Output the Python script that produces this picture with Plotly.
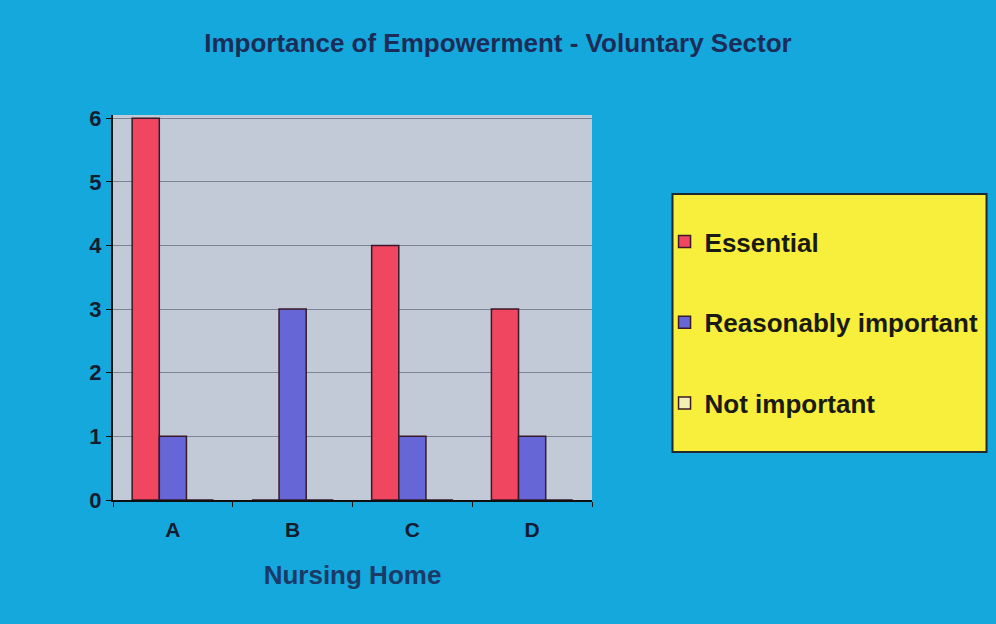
import plotly.graph_objects as go

# Data
homes = ['A', 'B', 'C', 'D']
essential = [6, 0, 4, 3]
reasonably_important = [1, 3, 1, 1]
not_important = [0, 0, 0, 0]

SERIES = [
    ('Essential', essential, '#f04660'),
    ('Reasonably important', reasonably_important, '#6666d6'),
    ('Not important', not_important, '#f2f0b4'),
]

W, H = 996, 624
ML, MR, MT, MB = 113, 401, 115, 124
plot_w = W - ML - MR
plot_h = H - MT - MB


def px_x(p):
    return (p - ML) / plot_w


def px_y(p):
    return (H - MB - p) / plot_h


fig = go.Figure()

for name, vals, color in SERIES:
    fig.add_trace(go.Bar(
        x=homes,
        y=vals,
        name=name,
        legendgroup=name,
        marker=dict(color=color, line=dict(color='#3a1a2a', width=1.5)),
    ))

fig.update_layout(
    width=W,
    height=H,
    margin=dict(l=ML, r=MR, t=MT, b=MB),
    paper_bgcolor='#14a8dc',
    plot_bgcolor='#c2cad8',
    barmode='group',
    bargap=0.32,
    bargroupgap=0,
    title=dict(
        text='Importance of Empowerment - Voluntary Sector',
        x=0.5, xanchor='center', y=0.932, yanchor='middle',
        font=dict(family='Liberation Sans', size=26, color='#1c2c58', weight='bold'),
    ),
    font=dict(family='Liberation Sans', color='#141c30'),
    showlegend=True,
    legend=dict(
        x=px_x(668), y=px_y(218), xanchor='left', yanchor='top',
        bgcolor='rgba(0,0,0,0)',
        traceorder='grouped',
        tracegroupgap=44,
        itemwidth=30,
        font=dict(family='Liberation Sans', size=26, color='#1a1a14', weight='bold'),
    ),
    shapes=[dict(
        type='rect', xref='paper', yref='paper',
        x0=px_x(676), x1=px_x(992), y0=px_y(452), y1=px_y(194),
        fillcolor='#f8ee3c', line=dict(color='#202830', width=2),
        layer='below',
    )],
)

fig.update_xaxes(
    title=dict(text='Nursing Home', font=dict(size=26, color='#1a3a68', weight='bold'), standoff=26),
    tickfont=dict(size=21, color='#141c30', weight='bold'),
    ticklabelstandoff=10,
    showline=True, linecolor='#101010', linewidth=2,
    ticks='outside', tickson='boundaries', ticklen=5, tickcolor='#101010',
    showgrid=False,
)

fig.update_yaxes(
    range=[0, 6.05],
    dtick=1,
    tickformat='d',
    tickfont=dict(size=22, color='#141c30', weight='bold'),
    showline=True, linecolor='#101010', linewidth=2,
    ticks='outside', ticklen=5, tickcolor='#101010',
    showgrid=True, gridcolor='#7c8494', gridwidth=1,
    zeroline=False,
)

fig.write_html('out.html', config={'displayModeBar': False},
               post_script="document.body.style.margin='0px';")
